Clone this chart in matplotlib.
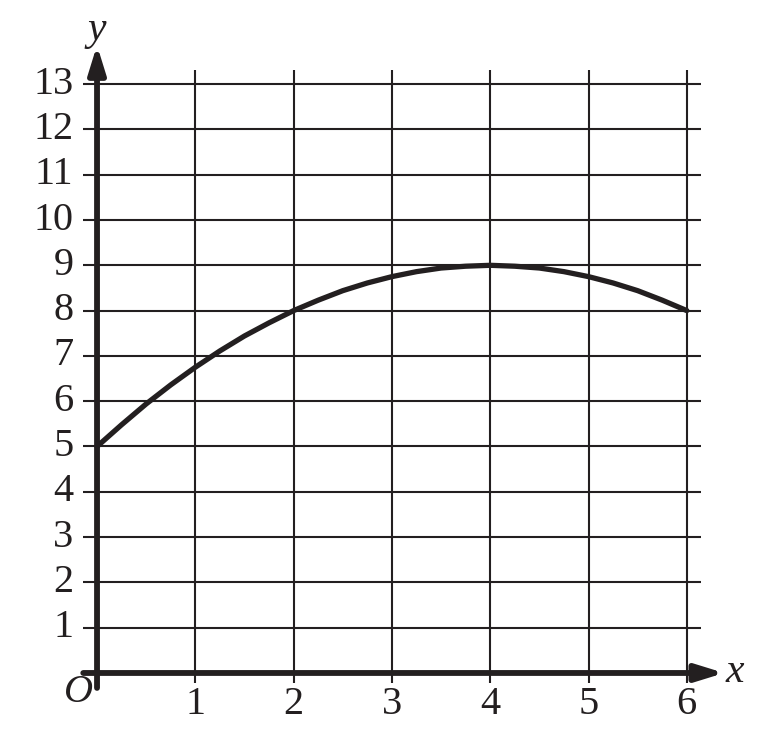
import matplotlib
matplotlib.use('Agg')
import matplotlib.pyplot as plt

# values
x_vals = [0, 0.25, 0.5, 0.75, 1, 1.25, 1.5, 1.75, 2, 2.25, 2.5, 2.75, 3,
          3.25, 3.5, 3.75, 4, 4.25, 4.5, 4.75, 5, 5.25, 5.5, 5.75, 6]
y_vals = [5, 5.48, 5.94, 6.36, 6.75, 7.11, 7.44, 7.73, 8, 8.23, 8.44, 8.61, 8.75,
          8.86, 8.94, 8.98, 9, 8.98, 8.94, 8.86, 8.75, 8.61, 8.44, 8.23, 8]
x_ticks = [1, 2, 3, 4, 5, 6]
y_ticks = list(range(1, 14))

ink = '#231f20'
plt.rcParams['font.family'] = ['Liberation Serif', 'DejaVu Serif']

fig = plt.figure(figsize=(7.81, 7.34), dpi=100)
ax = fig.add_axes([0, 0, 1, 1])
ax.set_xlim(-0.987, 6.958)
ax.set_ylim(-1.347, 14.857)
ax.axis('off')

# grid
for yv in y_ticks:
    ax.plot([-0.14, 6.144], [yv, yv], color=ink, lw=1.5, solid_capstyle='butt')
    ax.text(-0.24, yv, str(yv), ha='right', va='center', fontsize=29, color=ink)
for xv in x_ticks:
    ax.plot([xv, xv], [-0.22, 13.31], color=ink, lw=1.5, solid_capstyle='butt')
    ax.text(xv, -0.7, str(xv), ha='center', va='center', fontsize=29, color=ink)

# axes with arrows
head = '-|>,head_length=0.55,head_width=0.17'
ax.annotate('', xy=(6.38, 0), xytext=(-0.14, 0),
            arrowprops=dict(arrowstyle=head, lw=4.2, color=ink, mutation_scale=30,
                            shrinkA=0, shrinkB=0))
ax.annotate('', xy=(0, 13.86), xytext=(0, -0.33),
            arrowprops=dict(arrowstyle=head, lw=4.2, color=ink, mutation_scale=30,
                            shrinkA=0, shrinkB=0))

ax.text(6.49, 0.02, 'x', style='italic', ha='center', va='center', fontsize=30, color=ink)
ax.text(0, 14.2, 'y', style='italic', ha='center', va='center', fontsize=30, color=ink)
ax.text(-0.19, -0.44, 'O', style='italic', ha='center', va='center', fontsize=29, color=ink)

# curve
ax.plot(x_vals, y_vals, color=ink, lw=3.8, solid_capstyle='round', solid_joinstyle='round')

fig.savefig('out.png', dpi=100)
